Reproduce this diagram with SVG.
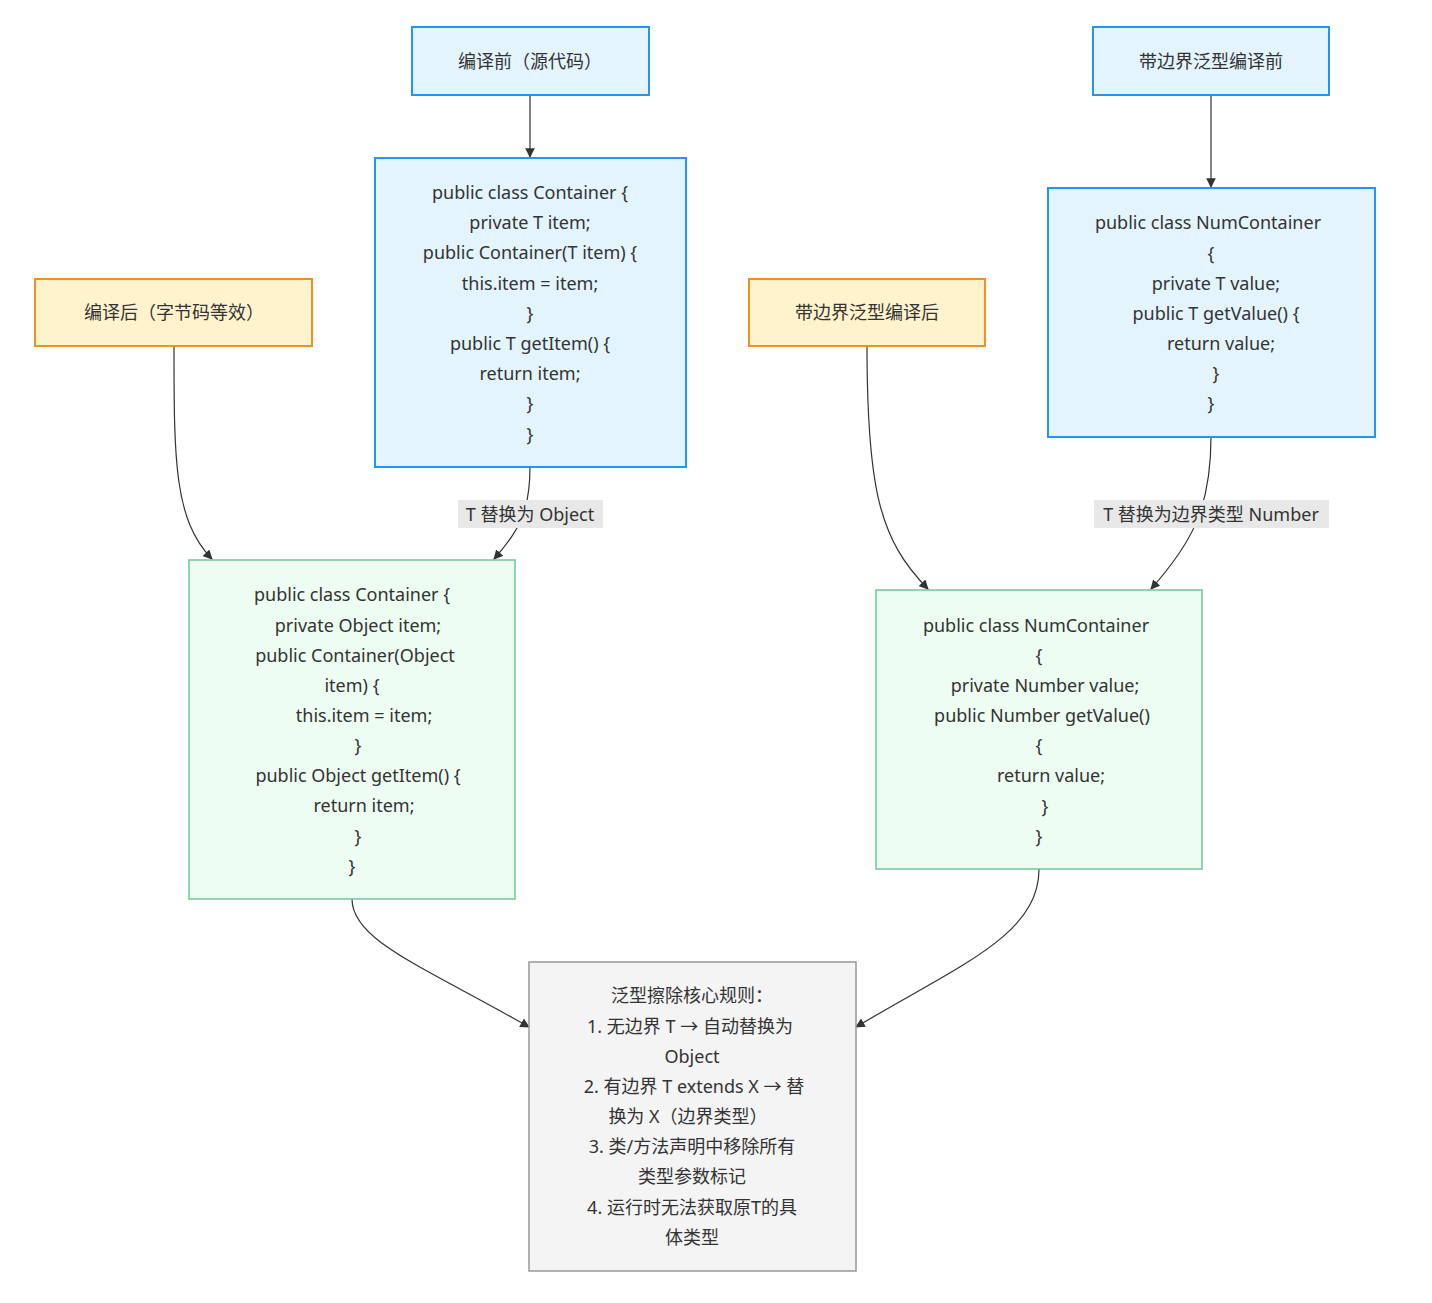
<svg xmlns="http://www.w3.org/2000/svg" width="1432" height="1303" viewBox="0 0 1432 1303">
<defs>
<marker id="arr" viewBox="0 0 10 10" refX="9" refY="5" markerWidth="8" markerHeight="8" orient="auto"><path d="M0,0 L10,5 L0,10 z" fill="#333"/></marker>
<style>
text{font-family:"Noto Sans","Noto Sans CJK SC",sans-serif;font-size:18px;fill:#333;text-anchor:middle;dominant-baseline:central}
.blue{fill:#e3f4fd;stroke:#2196f3;stroke-width:2}
.orange{fill:#fff3cd;stroke:#f5901e;stroke-width:2}
.green{fill:#edfdf1;stroke:#6cc99a;stroke-width:1.5}
.gray{fill:#f4f4f4;stroke:#999;stroke-width:1.5}
.edge{fill:none;stroke:#333;stroke-width:1.2;marker-end:url(#arr)}
.lbg{fill:#e8e8e8}
</style>
</defs>
<rect width="1432" height="1303" fill="#fff"/>
<g id="edges">
<path class="edge" d="M530,95 L530,157"/>
<path class="edge" d="M530,467 C530,510 520,530 494,559"/>
<path class="edge" d="M174,346 C174,460 174,520 212,559"/>
<path class="edge" d="M1211,95 L1211,187"/>
<path class="edge" d="M1211,437 C1211,510 1190,545 1151,589"/>
<path class="edge" d="M867,346 C867,490 880,540 928,589"/>
<path class="edge" d="M352,899 C352,940 420,965 529,1027"/>
<path class="edge" d="M1039,869 C1039,935 960,965 856,1027"/>
<rect class="lbg" x="458" y="500" width="145" height="28"/>
<text x="530" y="514">T 替换为 Object</text>
<rect class="lbg" x="1094" y="500" width="235" height="28"/>
<text x="1211" y="514">T 替换为边界类型 Number</text>
</g>
<g id="A"><rect class="blue" x="412" y="27" width="237" height="68"/><text x="530" y="61">编译前（源代码）</text></g>
<g id="B"><rect class="blue" x="375" y="158" width="311" height="309"/>
<text x="530" y="192">public class Container {</text>
<text x="530" y="222">private T item;</text>
<text x="530" y="252">public Container(T item) {</text>
<text x="530" y="283">this.item = item;</text>
<text x="530" y="313">}</text>
<text x="530" y="343">public T getItem() {</text>
<text x="530" y="373">return item;</text>
<text x="530" y="403">}</text>
<text x="530" y="434">}</text></g>
<g id="C"><rect class="blue" x="1093" y="27" width="236" height="68"/><text x="1211" y="61">带边界泛型编译前</text></g>
<g id="D"><rect class="blue" x="1048" y="188" width="327" height="249"/>
<text x="1208" y="222">public class NumContainer</text>
<text x="1211" y="253">{</text>
<text x="1216" y="283">private T value;</text>
<text x="1216" y="313">public T getValue() {</text>
<text x="1221" y="343">return value;</text>
<text x="1216" y="373">}</text>
<text x="1211" y="403">}</text></g>
<g id="E"><rect class="orange" x="35" y="279" width="277" height="67"/><text x="174" y="312">编译后（字节码等效）</text></g>
<g id="F"><rect class="orange" x="749" y="279" width="236" height="67"/><text x="867" y="312">带边界泛型编译后</text></g>
<g id="G"><rect class="green" x="189" y="560" width="326" height="339"/>
<text x="352" y="594">public class Container {</text>
<text x="358" y="625">private Object item;</text>
<text x="355" y="655">public Container(Object</text>
<text x="352" y="685">item) {</text>
<text x="364" y="715">this.item = item;</text>
<text x="358" y="745">}</text>
<text x="358" y="775">public Object getItem() {</text>
<text x="364" y="805">return item;</text>
<text x="358" y="836">}</text>
<text x="352" y="866">}</text></g>
<g id="H"><rect class="green" x="876" y="590" width="326" height="279"/>
<text x="1036" y="625">public class NumContainer</text>
<text x="1039" y="655">{</text>
<text x="1045" y="685">private Number value;</text>
<text x="1042" y="715">public Number getValue()</text>
<text x="1039" y="745">{</text>
<text x="1051" y="775">return value;</text>
<text x="1045" y="806">}</text>
<text x="1039" y="836">}</text></g>
<g id="I"><rect class="gray" x="529" y="962" width="327" height="309"/>
<text x="692" y="995">泛型擦除核心规则：</text>
<text x="690" y="1026">1. 无边界 T → 自动替换为</text>
<text x="692" y="1056">Object</text>
<text x="694" y="1086">2. 有边界 T extends X → 替</text>
<text x="688" y="1116">换为 X（边界类型）</text>
<text x="692" y="1146">3. 类/方法声明中移除所有</text>
<text x="692" y="1176">类型参数标记</text>
<text x="692" y="1207">4. 运行时无法获取原T的具</text>
<text x="692" y="1237">体类型</text></g>
</svg>
